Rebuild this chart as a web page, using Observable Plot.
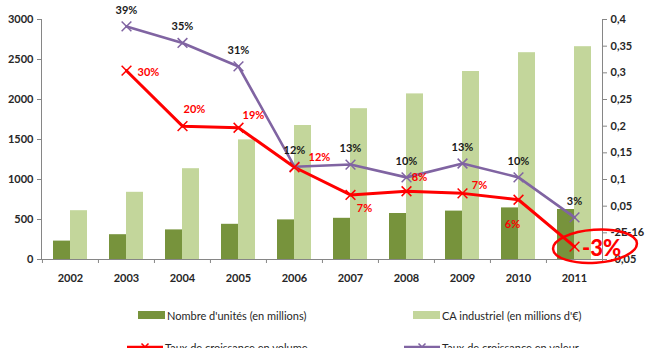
<!DOCTYPE html>
<html><head><meta charset="utf-8">
<script src="https://cdn.jsdelivr.net/npm/d3@7"></script>
<script src="https://cdn.jsdelivr.net/npm/@observablehq/plot@0.6"></script>
<style>
body{margin:0;background:#fff;font-family:Lato,"Open Sans",sans-serif;}
#wrap{position:relative;width:645px;height:348px;overflow:hidden;background:#fff;}
#wrap svg.plot{position:absolute;left:0;top:0;}
.leg{position:absolute;font-size:11px;color:#262626;display:flex;align-items:center;white-space:nowrap;height:14px;}
.leg svg{margin-right:2px;}
</style></head><body><div id="wrap"></div>
<script>
// ---- data ----
const years = [2002, 2003, 2004, 2005, 2006, 2007, 2008, 2009, 2010, 2011];
const unites = [230, 310, 370, 440, 495, 515, 575, 605, 645, 625];
const caIndustriel = [610, 840, 1135, 1495, 1675, 1885, 2070, 2350, 2585, 2660];
const rateYears = [2003, 2004, 2005, 2006, 2007, 2008, 2009, 2010, 2011];
const croissanceVolume = [0.304, 0.20, 0.197, 0.123, 0.071, 0.078, 0.074, 0.062, -0.026];
const croissanceValeur = [0.387, 0.356, 0.312, 0.124, 0.128, 0.104, 0.13, 0.104, 0.029];
const volumeLabels = ["30%", "20%", "19%", "12%", "7%", "8%", "7%", "6%", "-3%"];
const valeurLabels = ["39%", "35%", "31%", "12%", "13%", "10%", "13%", "10%", "3%"];
const leftTicks = [0, 500, 1000, 1500, 2000, 2500, 3000];
const rightTicks = [-0.05, 0, 0.05, 0.1, 0.15, 0.2, 0.25, 0.3, 0.35, 0.4];
const rightTickLabels = ["-0,05", "-2E-16", "0,05", "0,1", "0,15", "0,2", "0,25", "0,3", "0,35", "0,4"];
const seriesNames = ["Nombre d'unités (en millions)", "CA industriel (en millions d'€)", "Taux de croissance en volume", "Taux de croissance en valeur"];

// ---- styling (not data) ----
const volDx = [22, 12, 15, 25, 14, 13, 17, -6, 27];
const volDy = [2, -17, -12, -10, 14, -14, -8, 25, 2];
const cDark = "#77933C", cLight = "#C3D69B", cRed = "#FF0000", cPurple = "#8064A2", cAxis = "#868686";

const leftMax = 3000, rMin = -0.05, rMax = 0.4;
const toLeft = v => (v - rMin) / (rMax - rMin) * leftMax;
const rightLabelMap = new Map(rightTicks.map((v, i) => [toLeft(v), rightTickLabels[i]]));

const idx = years.map((_, i) => i);
const ridx = rateYears.map((_, i) => i);

const textStyle = {fontSize: 11, fontWeight: "bold", fontFamily: "Lato, 'Open Sans', sans-serif"};

const volLabelMarks = ridx.map(i => Plot.text([i], {
  x: j => rateYears[j], y: j => toLeft(croissanceVolume[j]), text: j => volumeLabels[j],
  dx: volDx[i], dy: volDy[i], fill: cRed,
  ...textStyle,
  ...(i === ridx.length - 1 ? {fontSize: 22, fontWeight: 900} : {})
}));

const chart = Plot.plot({
  width: 645, height: 300,
  marginLeft: 41, marginRight: 43, marginTop: 19, marginBottom: 41,
  style: {fontFamily: "Lato, 'Open Sans', sans-serif", fontSize: "11px", color: "#333", background: "transparent"},
  x: {type: "band", domain: years, padding: 0},
  y: {domain: [0, leftMax]},
  marks: [
    Plot.barY(idx, {x: i => years[i], y: i => unites[i], fill: cDark, insetLeft: 11, insetRight: 28}),
    Plot.barY(idx, {x: i => years[i], y: i => caIndustriel[i], fill: cLight, insetLeft: 28, insetRight: 11}),
    Plot.frame({anchor: "left", stroke: cAxis}),
    Plot.frame({anchor: "right", stroke: cAxis}),
    Plot.ruleY([0], {stroke: cAxis}),
    Plot.ruleX(idx, {x: i => years[i], dx: -28.05, y1: 0, y2: -50, stroke: cAxis}),
    Plot.ruleX([years.length - 1], {x: i => years[i], dx: 28.05, y1: 0, y2: -50, stroke: cAxis}),
    Plot.axisY({anchor: "left", ticks: leftTicks, tickFormat: d => String(d), tickSize: 4, tickPadding: 4, stroke: cAxis, fill: "#262626", fontWeight: "bold", label: null}),
    Plot.axisY({anchor: "right", ticks: rightTicks.map(toLeft), tickFormat: d => rightLabelMap.get(d), tickSize: 4, tickPadding: 4, stroke: cAxis, fill: "#262626", fontWeight: "bold", label: null}),
    Plot.axisX({tickSize: 0, tickPadding: 15, fill: "#262626", fontWeight: "bold", label: null, tickFormat: d => String(d)}),
    Plot.line(ridx, {x: i => rateYears[i], y: i => toLeft(croissanceValeur[i]), stroke: cPurple, strokeWidth: 2.6}),
    Plot.line(ridx, {x: i => rateYears[i], y: i => toLeft(croissanceVolume[i]), stroke: cRed, strokeWidth: 3}),
    Plot.dot(ridx, {x: i => rateYears[i], y: i => toLeft(croissanceValeur[i]), symbol: "times", r: 4.5, stroke: cPurple, strokeWidth: 1.5}),
    Plot.dot(ridx, {x: i => rateYears[i], y: i => toLeft(croissanceVolume[i]), symbol: "times", r: 4.5, stroke: cRed, strokeWidth: 1.5}),
    Plot.text(ridx, {x: i => rateYears[i], y: i => toLeft(croissanceValeur[i]), text: i => valeurLabels[i], dy: -16, fill: "#1a1a1a", ...textStyle}),
    ...volLabelMarks
  ]
});
chart.classList.add("plot");
const wrap = document.getElementById("wrap");
wrap.appendChild(chart);

// highlight ellipse around last volume point, positioned through the plot's scales
const xs = chart.scale("x"), ys = chart.scale("y");
const last = rateYears.length - 1;
const px = xs.apply(rateYears[last]) + xs.bandwidth / 2;
const py = ys.apply(toLeft(croissanceVolume[last]));
d3.select(chart).append("ellipse")
  .attr("cx", px + 21).attr("cy", py).attr("rx", 42).attr("ry", 16.5)
  .attr("transform", `rotate(-4 ${px + 21} ${py})`)
  .attr("fill", "none").attr("stroke", cRed).attr("stroke-width", 2.5);

// legend
function legendItem(left, top, name, kind, color) {
  const d = document.createElement("div");
  d.className = "leg";
  d.style.left = left + "px"; d.style.top = top + "px";
  let sw;
  if (kind === "rect") {
    sw = `<svg width="27" height="8"><rect x="0" y="0" width="27" height="8" fill="${color}"/></svg>`;
  } else {
    sw = `<svg width="36" height="12"><line x1="0" y1="6" x2="36" y2="6" stroke="${color}" stroke-width="2.5"/>` +
      `<path d="M14.5,2.5L21.5,9.5M21.5,2.5L14.5,9.5" stroke="${color}" stroke-width="1.5"/></svg>`;
  }
  d.innerHTML = sw + `<span>${name}</span>`;
  wrap.appendChild(d);
}
legendItem(138, 308, seriesNames[0], "rect", cDark);
legendItem(413, 308, seriesNames[1], "rect", cLight);
legendItem(127, 340, seriesNames[2], "line", cRed);
legendItem(404, 340, seriesNames[3], "line", cPurple);
</script></body></html>
